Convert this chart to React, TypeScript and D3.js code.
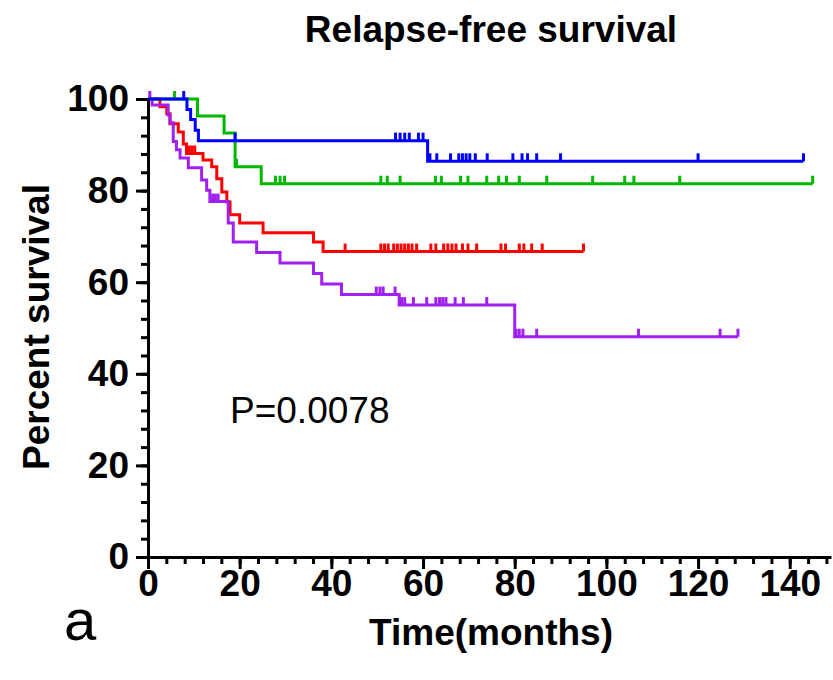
import React, { useRef, useEffect } from 'react';
import * as d3 from 'd3';

// Kaplan-Meier curves: step times (months) and survival (%) after each step
const blueTimes = [0, 8.5, 9.3, 10.3, 11.0, 61.0];
const blueSurv = [100, 97.7, 95.5, 93.2, 90.9, 86.4];
const blueCensor = [7.8, 19, 54, 55, 56, 57, 59, 60, 61.5, 63, 66, 67.8, 68.6, 69.4, 70.2, 71.4, 74, 79.6, 81.6, 82.8, 84.8, 90, 120, 143];

const greenTimes = [0, 10.8, 16.6, 19.0, 24.7];
const greenSurv = [100, 96.3, 92.6, 85.2, 81.5];
const greenCensor = [5.8, 19.3, 27.8, 28.8, 29.8, 50.8, 52.2, 55, 62.7, 64, 68.2, 69.8, 73.9, 76.5, 78.2, 81, 87, 97, 104, 106, 116, 145];

const redTimes = [0, 2.6, 4.1, 4.8, 6.6, 7.7, 8.4, 12, 13.9, 15, 16.1, 17.2, 17.9, 20, 25.1, 36.1, 38.2];
const redSurv = [100, 98.3, 96.8, 94.6, 92.8, 90.2, 88.1, 86.7, 85.2, 82.6, 79.7, 77.5, 74.7, 72.9, 70.8, 68.8, 66.7];
const redCensor = [9.0, 9.6, 10.2, 43, 50.8, 51.6, 52.4, 53.6, 54.4, 55.2, 56, 56.8, 57.6, 58.6, 61.7, 62.8, 64.5, 65.4, 66.3, 67.2, 68.6, 69.8, 71.7, 77, 78, 81, 82, 83.7, 86, 95];

const purpleTimes = [0, 0.9, 4.4, 4.8, 5.5, 6.2, 7.0, 8.8, 11.7, 12.8, 13.5, 17.5, 18.6, 23.7, 28.8, 36.1, 37.9, 42.2, 54.8, 80.0];
const purpleSurv = [100, 98.7, 96.5, 94.8, 90.7, 88.9, 87.1, 85.0, 82.3, 80.1, 77.6, 72.9, 68.8, 66.5, 64.2, 61.9, 59.6, 57.3, 55.0, 48.1];
const purpleCensor = [0.4, 14.1, 14.7, 15.3, 49.8, 50.6, 51.3, 53.9, 55.3, 56, 57.9, 60.8, 62.8, 63.6, 64.3, 65, 67, 68.8, 73.9, 80.3, 81, 81.8, 84.8, 107, 124.8, 128.7];

const xTicks = [0, 20, 40, 60, 80, 100, 120, 140];
const yTicks = [0, 20, 40, 60, 80, 100];

const series = [
  { name: 'red', color: '#ff0000', times: redTimes, surv: redSurv, censor: redCensor },
  { name: 'purple', color: '#a020f0', times: purpleTimes, surv: purpleSurv, censor: purpleCensor },
  { name: 'green', color: '#00b800', times: greenTimes, surv: greenSurv, censor: greenCensor },
  { name: 'blue', color: '#0000ff', times: blueTimes, surv: blueSurv, censor: blueCensor }
];

export default function App() {
  const svgRef = useRef<SVGSVGElement>(null);

  useEffect(() => {
    const svg = d3.select(svgRef.current);
    svg.selectAll('*').remove();

    const font = "'Liberation Sans', Arial, sans-serif";
    const x = d3.scaleLinear().domain([0, 149]).range([148, 831]);
    const y = d3.scaleLinear().domain([0, 100]).range([557, 99]);

    // curves
    const line = d3
      .line<[number, number]>()
      .x(d => x(d[0]))
      .y(d => y(d[1]))
      .curve(d3.curveStepAfter);

    series.forEach(s => {
      const end = d3.max(s.censor) as number;
      const pts: [number, number][] = s.times.map((t, i) => [t, s.surv[i]]);
      pts.push([end, s.surv[s.surv.length - 1]]);
      const level = (t: number) => {
        let v = s.surv[0];
        s.times.forEach((tt, i) => {
          if (tt <= t) v = s.surv[i];
        });
        return v;
      };
      const g = svg.append('g');
      g.append('path')
        .attr('d', line(pts))
        .attr('fill', 'none')
        .attr('stroke', s.color)
        .attr('stroke-width', 3);
      g.selectAll('line')
        .data(s.censor)
        .enter()
        .append('line')
        .attr('x1', d => x(d))
        .attr('x2', d => x(d))
        .attr('y1', d => y(level(d)))
        .attr('y2', d => y(level(d)) - 8)
        .attr('stroke', s.color)
        .attr('stroke-width', 3);
    });

    // x axis
    const xMinor = d3.range(0, 149, 4);
    svg
      .append('g')
      .attr('transform', 'translate(0,557)')
      .call(d3.axisBottom(x).tickValues(xMinor).tickSize(7).tickFormat(() => ''))
      .call(g => g.select('.domain').remove())
      .selectAll('line')
      .attr('stroke-width', 3);
    const xAxis = svg
      .append('g')
      .attr('transform', 'translate(0,557)')
      .call(d3.axisBottom(x).tickValues(xTicks).tickSize(12).tickSizeOuter(0).tickPadding(1));
    xAxis.select('.domain').attr('stroke-width', 3);
    xAxis.selectAll('line').attr('stroke-width', 3);
    xAxis
      .selectAll('text')
      .attr('font-size', 37)
      .attr('font-weight', 'bold')
      .attr('font-family', font)
      .attr('fill', '#000');

    // y axis
    const yMinor = d3.range(0, 101, 4);
    svg
      .append('g')
      .attr('transform', 'translate(148,0)')
      .call(d3.axisLeft(y).tickValues(yMinor).tickSize(7).tickFormat(() => ''))
      .call(g => g.select('.domain').remove())
      .selectAll('line')
      .attr('stroke-width', 3);
    const yAxis = svg
      .append('g')
      .attr('transform', 'translate(148,0)')
      .call(d3.axisLeft(y).tickValues(yTicks).tickSize(12).tickSizeOuter(0).tickPadding(7));
    yAxis.select('.domain').attr('stroke-width', 3);
    yAxis.selectAll('line').attr('stroke-width', 3);
    yAxis
      .selectAll('text')
      .attr('font-size', 37)
      .attr('font-weight', 'bold')
      .attr('font-family', font)
      .attr('fill', '#000');

    // titles
    svg
      .append('text')
      .text('Relapse-free survival')
      .attr('x', 491)
      .attr('y', 42)
      .attr('text-anchor', 'middle')
      .attr('font-size', 37)
      .attr('font-weight', 'bold')
      .attr('font-family', font);
    svg
      .append('text')
      .text('Time(months)')
      .attr('x', 491)
      .attr('y', 645)
      .attr('text-anchor', 'middle')
      .attr('font-size', 37)
      .attr('font-weight', 'bold')
      .attr('font-family', font);
    svg
      .append('text')
      .text('Percent survival')
      .attr('transform', 'translate(49,327) rotate(-90)')
      .attr('text-anchor', 'middle')
      .attr('font-size', 37)
      .attr('font-weight', 'bold')
      .attr('font-family', font);
    svg
      .append('text')
      .text('P=0.0078')
      .attr('x', 230)
      .attr('y', 423)
      .attr('font-size', 37)
      .attr('font-family', font);
    svg
      .append('text')
      .text('a')
      .attr('x', 64)
      .attr('y', 640)
      .attr('font-size', 58)
      .attr('font-family', font);
  }, []);

  return (
    <svg
      ref={svgRef}
      width={833}
      height={680}
      style={{ position: 'absolute', left: 0, top: 0, background: '#fff' }}
    />
  );
}
